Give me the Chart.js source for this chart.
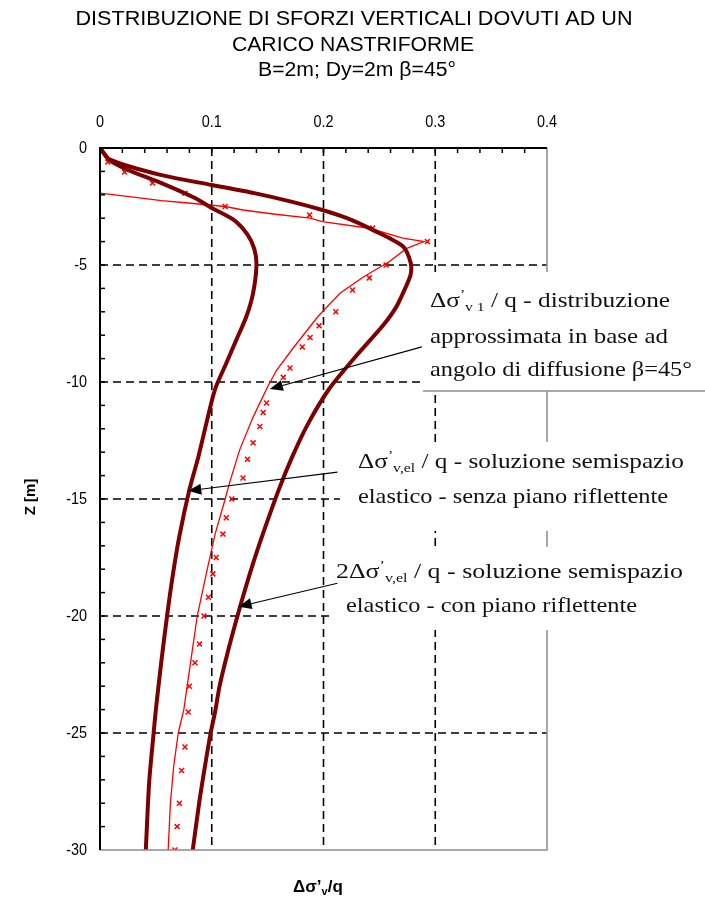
<!DOCTYPE html>
<html>
<head>
<meta charset="utf-8">
<script src="https://cdn.jsdelivr.net/npm/chart.js@4.4.1/dist/chart.umd.min.js"></script>
<style>
    html, body { margin: 0; padding: 0; background: #fff; }
    #wrap { width: 705px; height: 901px; position: relative; }
</style>
</head>
<body>
<div id="wrap"><canvas id="chart"></canvas></div>
<script>
    "use strict";

    // Tick labels
    const xTickValues = [0, 0.1, 0.2, 0.3, 0.4];
    const xTickLabels = ['0', '0.1', '0.2', '0.3', '0.4'];
    const yTickValues = [0, -5, -10, -15, -20, -25, -30];
    const yTickLabels = ['0', '-5', '-10', '-15', '-20', '-25', '-30'];

    // Elastic half-space, without reflecting plane (depth z, stress ratio)
    const depthElastic = [0, -0.5, -0.94, -1.5, -2.14, -2.56, -3.08, -3.7, -4.3, -5.0, -6.2, -7.2, -8.2, -9.2, -10.3, -11.8, -13.2, -14.6, -16.6, -18.3, -20.0, -21.9, -24.0, -25.0, -27.1, -30];
    const sigmaElastic = [0, 0.008, 0.025, 0.055, 0.085, 0.100, 0.120, 0.132, 0.138, 0.140, 0.137, 0.131, 0.122, 0.113, 0.103, 0.095, 0.088, 0.080, 0.071, 0.065, 0.060, 0.055, 0.050, 0.048, 0.044, 0.041];

    // Elastic half-space, with reflecting plane
    const depthReflect = [0, -0.5, -1.15, -1.58, -1.93, -2.3, -2.65, -3.0, -3.5, -4.2, -4.9, -5.4, -5.9, -6.8, -7.6, -8.9, -10.3, -11.8, -13.2, -14.6, -16.6, -17.9, -19.0, -20.0, -21.6, -23.0, -24.1, -25.0, -26.4, -27.9, -30];
    const sigmaReflect = [0, 0.009, 0.054, 0.100, 0.138, 0.172, 0.199, 0.221, 0.244, 0.271, 0.278, 0.278, 0.274, 0.265, 0.253, 0.229, 0.205, 0.186, 0.172, 0.160, 0.145, 0.136, 0.129, 0.123, 0.114, 0.107, 0.103, 0.099, 0.094, 0.089, 0.083];

    // Approximate distribution, diffusion angle 45 deg (line)
    const depthApprox = [0, -1.93, -2.1, -2.25, -2.35, -2.5, -2.65, -2.82, -3.0, -3.15, -3.43, -3.85, -4.0, -4.3, -4.85, -5.5, -6.2, -7.2, -8.6, -9.5, -10.2, -11.5, -12.9, -14.3, -15.0, -16.5, -18.0, -20.0, -22.0, -24.0, -25.0, -26.4, -28.0, -30];
    const sigmaApprox = [0, 0, 0.030, 0.055, 0.079, 0.112, 0.128, 0.155, 0.188, 0.199, 0.241, 0.271, 0.290, 0.274, 0.259, 0.236, 0.215, 0.195, 0.172, 0.158, 0.150, 0.137, 0.125, 0.116, 0.112, 0.103, 0.096, 0.087, 0.081, 0.075, 0.070, 0.066, 0.063, 0.061];

    // Approximate distribution (markers)
    const depthMarks = [0, -0.6, -1.03, -1.5, -1.93, -2.5, -2.86, -3.42, -4.0, -5.0, -5.55, -6.07, -7.0, -7.6, -8.1, -8.5, -9.4, -9.8, -10.9, -11.3, -11.9, -12.6, -13.3, -14.1, -15.0, -15.8, -16.5, -17.5, -18.2, -19.2, -20.0, -21.2, -22.0, -23.0, -24.1, -25.6, -26.6, -28.0, -29.0, -30.0];
    const sigmaMarks = [0, 0.007, 0.022, 0.047, 0.076, 0.112, 0.1875, 0.244, 0.293, 0.256, 0.241, 0.226, 0.211, 0.196, 0.188, 0.181, 0.170, 0.164, 0.149, 0.146, 0.143, 0.137, 0.132, 0.128, 0.118, 0.113, 0.110, 0.104, 0.101, 0.097, 0.093, 0.089, 0.085, 0.080, 0.079, 0.076, 0.073, 0.071, 0.069, 0.067];

    const darkRed = '#7d0000';
    const brightRed = '#ff0000';
    const sans = '"Liberation Sans", Arial, sans-serif';
    const serif = '"Liberation Serif", "Times New Roman", serif';

    function toPoints(xs, zs) {
        return zs.map(function (z, i) { return { x: xs[i], y: z }; });
    }

    // Width of a rich text run at a given size
    function richWidth(ctx, parts, size) {
        let w = 0;
        parts.forEach(function (p) {
            ctx.font = ((p.sub || p.sup) ? Math.round(size * 0.6) : size) + 'px ' + serif;
            w += ctx.measureText(p.t).width;
        });
        return w;
    }

    // Draw a line of text with sub/superscript parts, stretched to fill [x, right]
    function drawRich(ctx, x, right, y, parts, size) {
        const stretch = (right - x) / richWidth(ctx, parts, size);
        ctx.save();
        ctx.translate(x, y);
        ctx.scale(stretch, 1);
        let cx = 0;
        parts.forEach(function (p) {
            const small = p.sub || p.sup;
            ctx.font = (small ? Math.round(size * 0.6) : size) + 'px ' + serif;
            const dy = p.sub ? size * 0.2 : (p.sup ? -size * 0.42 : 0);
            ctx.fillText(p.t, cx, dy);
            cx += ctx.measureText(p.t).width;
        });
        ctx.restore();
    }

    // Centred text squeezed/stretched to a given width
    function drawFit(ctx, text, cx, y, width) {
        const sc = width / ctx.measureText(text).width;
        ctx.save();
        ctx.translate(cx, y);
        ctx.scale(sc, 1);
        ctx.fillText(text, 0, 0);
        ctx.restore();
    }

    function drawArrow(ctx, x0, y0, x1, y1) {
        const ang = Math.atan2(y1 - y0, x1 - x0);
        const len = 13, half = 5.5;
        ctx.beginPath();
        ctx.moveTo(x0, y0);
        ctx.lineTo(x1 - Math.cos(ang) * len * 0.8, y1 - Math.sin(ang) * len * 0.8);
        ctx.stroke();
        ctx.beginPath();
        ctx.moveTo(x1, y1);
        ctx.lineTo(x1 - Math.cos(ang) * len - Math.sin(ang) * half, y1 - Math.sin(ang) * len + Math.cos(ang) * half);
        ctx.lineTo(x1 - Math.cos(ang) * len + Math.sin(ang) * half, y1 - Math.sin(ang) * len - Math.cos(ang) * half);
        ctx.closePath();
        ctx.fill();
    }

    // Annotation texts: [left, right, baseline, parts]
    const notes = [
        [430, 670, 307, [{ t: 'Δσ' }, { t: '\u2019', sup: true }, { t: 'v 1', sub: true }, { t: ' / q - distribuzione' }]],
        [430, 668, 343, [{ t: 'approssimata in base ad' }]],
        [430, 692, 376, [{ t: 'angolo di diffusione β=45°' }]],
        [358, 684, 468, [{ t: 'Δσ' }, { t: '\u2019', sup: true }, { t: 'v,el', sub: true }, { t: ' / q - soluzione semispazio' }]],
        [358, 668, 503, [{ t: 'elastico - senza piano riflettente' }]],
        [336, 683, 578, [{ t: '2Δσ' }, { t: '\u2019', sup: true }, { t: 'v,el', sub: true }, { t: ' / q - soluzione semispazio' }]],
        [346, 637, 612, [{ t: 'elastico - con piano riflettente' }]]
    ];

    // White boxes behind the notes: [left, top, right, bottom]
    const noteBoxes = [[423, 272, 705, 391], [340, 442, 705, 531], [334, 547, 705, 630]];

    // Arrows in data units: [tail x, tail z, tip x, tip z]
    const arrows = [[0.288, -8.5, 0.152, -10.3], [0.2125, -13.85, 0.079, -14.65], [0.2125, -18.6, 0.124, -19.6]];

    const framePlugin = {
        id: 'frame',
        beforeDatasetsDraw: function (chart) {
            const ctx = chart.ctx, a = chart.chartArea, sx = chart.scales.x, sy = chart.scales.y;
            ctx.save();
            ctx.strokeStyle = '#000';
            ctx.lineWidth = 1.6;
            ctx.setLineDash([8, 5]);
            xTickValues.slice(1, -1).forEach(function (v) {
                const px = sx.getPixelForValue(v);
                ctx.beginPath(); ctx.moveTo(px, a.top); ctx.lineTo(px, a.bottom); ctx.stroke();
            });
            yTickValues.slice(1, -1).forEach(function (v) {
                const py = sy.getPixelForValue(v);
                ctx.beginPath(); ctx.moveTo(a.left, py); ctx.lineTo(a.right, py); ctx.stroke();
            });
            ctx.restore();
        },
        afterDatasetsDraw: function (chart) {
            const ctx = chart.ctx, a = chart.chartArea, sx = chart.scales.x, sy = chart.scales.y;
            ctx.save();

            // grey right and bottom border
            ctx.strokeStyle = '#8c8c8c';
            ctx.lineWidth = 1.5;
            ctx.beginPath();
            ctx.moveTo(a.right, a.top); ctx.lineTo(a.right, a.bottom); ctx.lineTo(a.left, a.bottom);
            ctx.stroke();

            // black top and left axis
            ctx.strokeStyle = '#000';
            ctx.lineWidth = 2;
            ctx.beginPath();
            ctx.moveTo(a.right, a.top); ctx.lineTo(a.left, a.top); ctx.lineTo(a.left, a.bottom);
            ctx.stroke();

            // inward ticks
            ctx.lineWidth = 1.5;
            for (let v = 0.02; v < 0.399; v += 0.02) {
                const px = sx.getPixelForValue(v);
                ctx.beginPath(); ctx.moveTo(px, a.top); ctx.lineTo(px, a.top + 5); ctx.stroke();
            }
            for (let v = -1; v > -29.5; v -= 1) {
                const py = sy.getPixelForValue(v);
                ctx.beginPath(); ctx.moveTo(a.left, py); ctx.lineTo(a.left + 5, py); ctx.stroke();
            }

            // tick labels
            ctx.fillStyle = '#000';
            ctx.font = '16px ' + sans;
            ctx.textAlign = 'center';
            ctx.textBaseline = 'middle';
            xTickValues.forEach(function (v, i) {
                drawFit(ctx, xTickLabels[i], sx.getPixelForValue(v), a.top - 25, ctx.measureText(xTickLabels[i]).width * 0.9);
            });
            ctx.textAlign = 'right';
            yTickValues.forEach(function (v, i) {
                drawFit(ctx, yTickLabels[i], a.left - 13, sy.getPixelForValue(v) + 1, ctx.measureText(yTickLabels[i]).width * 0.9);
            });

            // axis titles
            ctx.font = 'bold 15px ' + sans;
            ctx.textAlign = 'center';
            ctx.save();
            ctx.translate(31, 497);
            ctx.rotate(-Math.PI / 2);
            ctx.fillText('Z [m]', 0, 0);
            ctx.restore();
            ctx.textAlign = 'left';
            ctx.font = 'bold 17px ' + sans;
            ctx.fillText('Δσ\u2019', 293, 887);
            let w = ctx.measureText('Δσ\u2019').width;
            ctx.font = 'bold 11px ' + sans;
            ctx.fillText('v', 293 + w, 892);
            w += ctx.measureText('v').width;
            ctx.font = 'bold 17px ' + sans;
            ctx.fillText('/q', 293 + w, 887);

            // chart title
            ctx.font = '20px ' + sans;
            ctx.textAlign = 'center';
            drawFit(ctx, 'DISTRIBUZIONE DI SFORZI VERTICALI DOVUTI AD UN', 354, 19, 557);
            drawFit(ctx, 'CARICO NASTRIFORME', 353, 45, 242);
            drawFit(ctx, 'B=2m; Dy=2m β=45°', 357, 70, 198);

            // note boxes
            ctx.fillStyle = '#fff';
            noteBoxes.forEach(function (b) { ctx.fillRect(b[0], b[1], b[2] - b[0], b[3] - b[1]); });
            ctx.strokeStyle = '#8c8c8c';
            ctx.lineWidth = 1.5;
            ctx.beginPath(); ctx.moveTo(noteBoxes[0][0], noteBoxes[0][3]); ctx.lineTo(705, noteBoxes[0][3]); ctx.stroke();

            // arrows
            ctx.strokeStyle = '#000';
            ctx.fillStyle = '#000';
            ctx.lineWidth = 1.2;
            arrows.forEach(function (r) {
                drawArrow(ctx, sx.getPixelForValue(r[0]), sy.getPixelForValue(r[1]), sx.getPixelForValue(r[2]), sy.getPixelForValue(r[3]));
            });

            // note texts
            ctx.textAlign = 'left';
            ctx.textBaseline = 'alphabetic';
            ctx.fillStyle = '#111';
            notes.forEach(function (n) { drawRich(ctx, n[0], n[1], n[2], n[3], 21); });

            ctx.restore();
        }
    };

    new Chart(document.getElementById('chart'), {
        type: 'scatter',
        data: {
            datasets: [{
                label: 'senza piano riflettente',
                data: toPoints(sigmaElastic, depthElastic),
                showLine: true,
                borderColor: darkRed,
                borderWidth: 4,
                pointRadius: 0,
                tension: 0.25
            }, {
                label: 'con piano riflettente',
                data: toPoints(sigmaReflect, depthReflect),
                showLine: true,
                borderColor: darkRed,
                borderWidth: 4,
                pointRadius: 0,
                tension: 0.25
            }, {
                label: 'distribuzione approssimata',
                data: toPoints(sigmaApprox, depthApprox),
                showLine: true,
                borderColor: brightRed,
                borderWidth: 1.3,
                pointRadius: 0
            }, {
                label: 'punti approssimati',
                data: toPoints(sigmaMarks, depthMarks),
                showLine: false,
                pointStyle: 'crossRot',
                pointRadius: 3.5,
                pointBorderWidth: 1.5,
                borderColor: brightRed,
                backgroundColor: brightRed
            }]
        },
        options: {
            responsive: true,
            maintainAspectRatio: false,
            animation: false,
            devicePixelRatio: 1,
            layout: { padding: { left: 100, top: 148, right: 158, bottom: 51 } },
            scales: {
                x: { type: 'linear', min: 0, max: 0.4, display: false },
                y: { type: 'linear', min: -30, max: 0, display: false }
            },
            plugins: {
                legend: { display: false },
                tooltip: { enabled: false }
            }
        },
        plugins: [framePlugin]
    });
</script>
</body>
</html>
